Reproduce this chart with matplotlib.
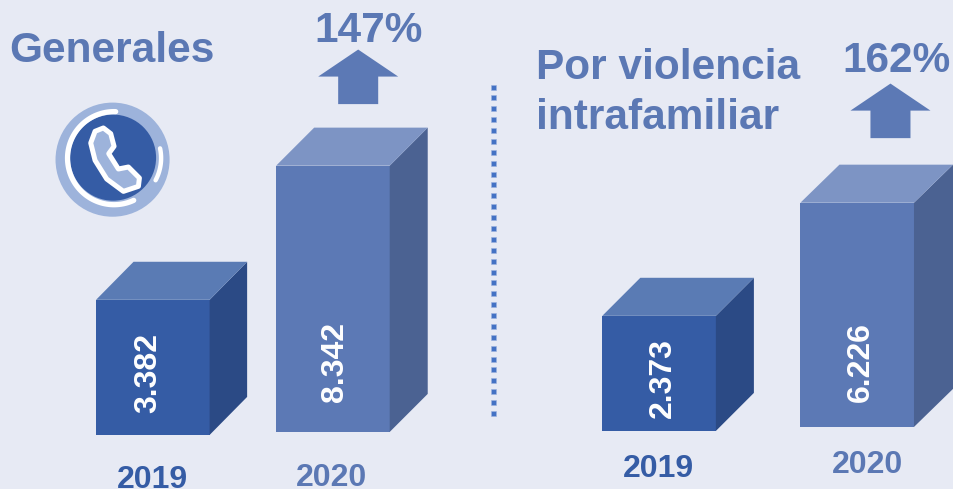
import numpy as np
import matplotlib
matplotlib.use("Agg")
import matplotlib.pyplot as plt
from matplotlib.patches import Polygon, Circle, PathPatch
from matplotlib.path import Path

plt.rcParams['font.family'] = ['Liberation Sans', 'DejaVu Sans']

# Data
years = ['2019', '2020', '2019', '2020']
value_labels = ['3.382', '8.342', '2.373', '6.226']
drawn_heights = [135, 266, 115, 224]   # heights as drawn (picture is not to scale)
titles = ['Generales', 'Por violencia\nintrafamiliar']
pct_labels = ['147%', '162%']

# Layout
bar_left = [96, 276, 602, 800]
bar_base = [435, 432, 431, 427]
bar_w = 113.5
depth_x = [37.5, 38, 38, 39]
depth_y = 38
value_xy = [(148, 373), (335, 362), (663, 378), (860, 362)]
year_xy = [(152, 487.5), (331, 485.5), (658.5, 476.5), (867, 472.5)]
BG = '#E7EAF4'
TXT = '#5B78B4'
front = ['#355CA5', '#5C79B5', '#355CA5', '#5C79B5']
side = ['#2B4A85', '#4B6292', '#2B4A85', '#4B6292']
top = ['#5A7BB4', '#7D94C4', '#5A7BB4', '#7D94C4']

fig = plt.figure(figsize=(9.535, 4.895), dpi=100, facecolor=BG)
ax = fig.add_axes([0, 0, 1, 1])
ax.set_xlim(0, 953)
ax.set_ylim(489, 0)
ax.axis('off')

for i, h in enumerate(drawn_heights):
    x0, x1 = bar_left[i], bar_left[i] + bar_w
    yb = bar_base[i]
    yt = yb - h
    dx = depth_x[i]
    ax.add_patch(Polygon([(x0, yt), (x1, yt), (x1, yb), (x0, yb)], fc=front[i], ec='none'))
    ax.add_patch(Polygon([(x1, yt), (x1 + dx, yt - depth_y), (x1 + dx, yb - depth_y), (x1, yb)], fc=side[i], ec='none'))
    ax.add_patch(Polygon([(x0, yt), (x0 + dx, yt - depth_y), (x1 + dx, yt - depth_y), (x1, yt)], fc=top[i], ec='none'))
    ax.text(value_xy[i][0], value_xy[i][1], value_labels[i], color='white', fontsize=23,
            fontweight='bold', rotation=90, ha='center', va='center')
    ax.text(year_xy[i][0], year_xy[i][1], years[i], color=('#355CA5' if i % 2 == 0 else TXT), fontsize=23,
            fontweight='bold', ha='center', va='baseline')

# Titles and percentages
ax.text(9, 51, titles[0], color=TXT, fontsize=30.5, fontweight='bold', ha='left', va='center')
ax.text(536, 93, titles[1], color=TXT, fontsize=30.5, fontweight='bold', ha='left', va='center', linespacing=1.32)
ax.text(368, 31, pct_labels[0], color=TXT, fontsize=30.5, fontweight='bold', ha='center', va='center')
ax.text(896, 61, pct_labels[1], color=TXT, fontsize=30.5, fontweight='bold', ha='center', va='center')

# Arrows
for cx, ya in [(358, 50), (890, 84)]:
    ax.add_patch(Polygon([(cx, ya), (cx + 40, ya + 27), (cx + 20, ya + 27), (cx + 20, ya + 54.5),
                          (cx - 20, ya + 54.5), (cx - 20, ya + 27), (cx - 40, ya + 27)], fc='#5C79B5', ec='none'))

# Dotted divider
ax.plot(np.full(31, 493.2), np.linspace(87, 413, 31), ls='none', marker='s', ms=3.6, mfc='#4472C4', mec='#9DB3E0', mew=0.4)

# Phone icon
ax.add_patch(Circle((112.5, 160), 57, fc='#9DB3DB', ec='none'))
ax.add_patch(Circle((113, 158), 43, fc='#355CA5', ec='none'))
def arc(a0, a1, r=46, c=(114, 158.5)):
    t = np.radians(np.linspace(a0, a1, 80))
    return c[0] + r * np.cos(t), c[1] - r * np.sin(t)
ax.plot(*arc(88, 295, r=46.5), color='white', lw=3.8, solid_capstyle='round')
ax.plot(*arc(12, -28, r=47), color='white', lw=3.2, solid_capstyle='round')
phone_zoom = [(190, 115), (212, 132), (222, 170), (206, 192), (235, 238), (265, 232), (298, 265), (295, 290),
              (250, 305), (200, 268), (165, 212), (152, 160), (165, 125), (190, 115)]
pts = [(40 + x / 3, 90 + y / 3) for x, y in phone_zoom]
codes = [Path.MOVETO] + [Path.LINETO] * (len(pts) - 2) + [Path.CLOSEPOLY]
ax.add_patch(PathPatch(Path(pts, codes), fc='#9DB3DB', ec='white', lw=3.6, joinstyle='round'))

fig.savefig('out.png', dpi=100, facecolor=BG)
